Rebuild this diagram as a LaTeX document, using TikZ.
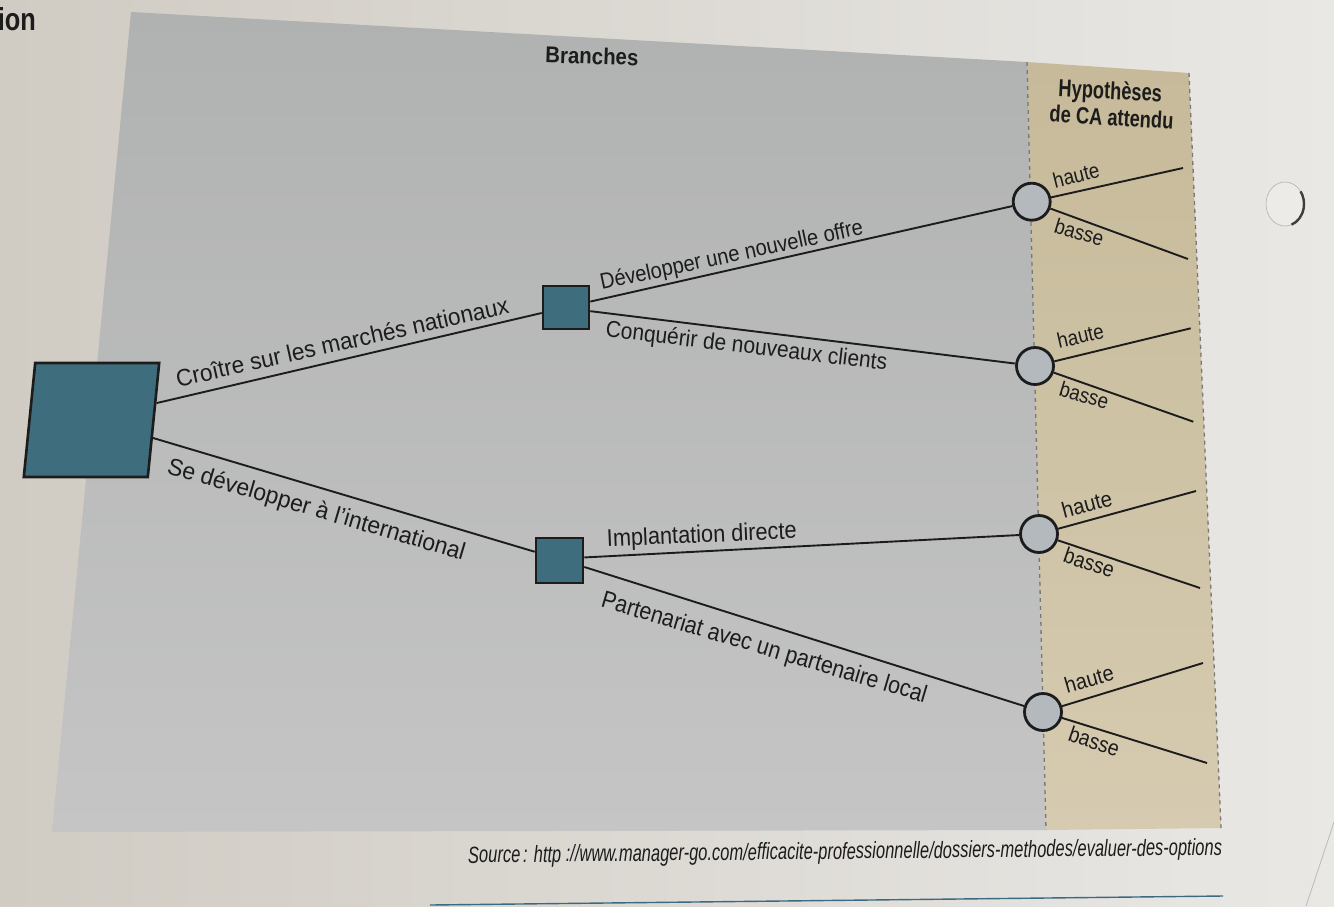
\documentclass[tikz,border=0pt]{standalone}
\usepackage{graphicx}
\usepackage{fontspec}
\setmainfont{Liberation Sans}
\usetikzlibrary{calc}
\definecolor{bgL}{RGB}{208,203,195}
\definecolor{bgR}{RGB}{233,232,229}
\definecolor{panelTop}{RGB}{176,177,177}
\definecolor{panelBot}{RGB}{196,197,196}
\definecolor{beigeTop}{RGB}{198,186,154}
\definecolor{beigeBot}{RGB}{214,203,176}
\definecolor{sqfill}{RGB}{62,110,126}
\definecolor{circfill}{RGB}{180,185,190}
\definecolor{ink}{RGB}{28,28,28}
\definecolor{dashcol}{RGB}{120,120,118}
\definecolor{rulecol}{RGB}{60,105,130}
\definecolor{holefill}{RGB}{236,235,232}
\newcommand{\fitlbl}[3]{\resizebox{#1pt}{#2pt}{#3}}
\tikzset{
  decision/.style={draw=ink, line width=2.6pt, fill=sqfill, rectangle, inner sep=0pt},
  chance/.style={draw=ink, line width=2.8pt, fill=circfill, circle, inner sep=0pt, minimum size=37pt},
  branch/.style={draw=ink, line width=1.9pt},
  lbl/.style={inner sep=0pt, anchor=base west, text=ink},
  title/.style={inner sep=0pt, anchor=base west, text=ink, font=\bfseries},
  dashline/.style={draw=dashcol, line width=1.3pt, dash pattern=on 4pt off 4pt}
}
\begin{document}
\begin{tikzpicture}[x=1pt,y=-1pt]
\useasboundingbox (0,0) rectangle (1334,906);
% page
\shade[left color=bgL, right color=bgR] (0,0) rectangle (1334,906);
% panel
\shade[top color=panelTop, bottom color=panelBot] (131,12) -- (1027,62) -- (1046,830) -- (52,832) -- cycle;
\shade[top color=beigeTop, bottom color=beigeBot] (1027,62) -- (1189,73) -- (1221,828) -- (1046,830) -- cycle;
\draw[dashline] (1027,62) -- (1046,830);
\draw[dashline] (1189,73) -- (1221,828);
% page details
\node[title, anchor=base east] (ion) at (36,30) {\fitlbl{38}{23}{ion}};
\fill[holefill] (1285,204) ellipse [x radius=19pt, y radius=22pt];
\draw[line width=0.6pt, gray!60] (1285,204) ellipse [x radius=19pt, y radius=22pt];
\draw[line width=2.4pt, ink!85] ([shift={(-70:19pt and 22pt)}]1285,204) arc [start angle=-70, end angle=35, x radius=19pt, y radius=22pt];
\draw[rulecol, line width=1.4pt] (430,905) -- (1223,896);
\draw[gray!55, line width=0.8pt] (1334,822) -- (1306,906);
% titles
\node[title, rotate=-2] (branches) at (545,62.5) {\fitlbl{93}{16.5}{Branches}};
\node[title, rotate=-2.8] (hyp1) at (1058,96.7) {\fitlbl{103.5}{18}{Hypothèses}};
\node[title, rotate=-3.5] (hyp2) at (1049,121.7) {\fitlbl{124}{17}{de CA attendu}};
% nodes
\node[decision, minimum width=124pt, minimum height=114pt, xslant=0.1, transform shape] (root) at (91.5,420) {};
\node[decision, minimum width=46pt, minimum height=43pt] (s2) at (566,307.5) {};
\node[decision, minimum width=47pt, minimum height=45pt] (s3) at (559.5,560.3) {};
\node[chance] (c1) at (1031.7,201.7) {};
\node[chance] (c2) at (1035,366) {};
\node[chance] (c3) at (1039,534) {};
\node[chance] (c4) at (1043,712) {};
% free ends
\coordinate (h1) at (1183,168);
\coordinate (b1) at (1188,259);
\coordinate (h2) at (1190.7,328.3);
\coordinate (b2) at (1193.3,421.7);
\coordinate (h3) at (1196,491);
\coordinate (b3) at (1200,588);
\coordinate (h4) at (1203,663);
\coordinate (b4) at (1207,763);
% connectors
\draw[branch] ($(root.north east)!0.355!(root.south east)$) -- ($(s2.north west)!0.62!(s2.south west)$);
\draw[branch] ($(root.north east)!0.654!(root.south east)$) -- ($(s3.north west)!0.32!(s3.south west)$);
\draw[branch] ($(s2.north east)!0.37!(s2.south east)$) -- (c1);
\draw[branch] ($(s2.north east)!0.58!(s2.south east)$) -- (c2);
\draw[branch] ($(s3.north east)!0.44!(s3.south east)$) -- (c3);
\draw[branch] ($(s3.north east)!0.64!(s3.south east)$) -- (c4);
\foreach \c/\h/\b in {c1/h1/b1, c2/h2/b2, c3/h3/b3, c4/h4/b4}{
  \draw[branch] (\c) -- (\h);
  \draw[branch] (\c) -- (\b);
}
% branch labels
\node[lbl, rotate=12.6] (l1) at (178,387.3) {\fitlbl{340}{17.5}{Croître sur les marchés nationaux}};
\node[lbl, rotate=-16.4] (l2) at (166,473) {\fitlbl{309}{17.5}{Se développer à l’international}};
\node[lbl, rotate=12] (l3) at (601.7,290) {\fitlbl{268}{16.5}{Développer une nouvelle offre}};
\node[lbl, rotate=-6.8] (l4) at (605,336.5) {\fitlbl{283}{17}{Conquérir de nouveaux clients}};
\node[lbl, rotate=2.5] (l5) at (607,546.7) {\fitlbl{190}{17.5}{Implantation directe}};
\node[lbl, rotate=-16.5] (l6) at (600,606.7) {\fitlbl{338}{17.5}{Partenariat avec un partenaire local}};
% outcome labels
\node[lbl, rotate=14] (lh1) at (1055,188.5) {\fitlbl{47}{15.5}{haute}};
\node[lbl, rotate=-17] (lb1) at (1053,232) {\fitlbl{50}{15.5}{basse}};
\node[lbl, rotate=13] (lh2) at (1059,348.5) {\fitlbl{47}{15.5}{haute}};
\node[lbl, rotate=-17] (lb2) at (1058,395) {\fitlbl{50}{15.5}{basse}};
\node[lbl, rotate=15] (lh3) at (1064,518.5) {\fitlbl{51}{16}{haute}};
\node[lbl, rotate=-19] (lb3) at (1062,561.5) {\fitlbl{52}{16}{basse}};
\node[lbl, rotate=16] (lh4) at (1067,693.5) {\fitlbl{50}{16}{haute}};
\node[lbl, rotate=-19] (lb4) at (1067,740) {\fitlbl{52}{16}{basse}};
% source
\node[lbl, rotate=0.6] (src) at (468,863) {\fitlbl{754}{17}{\itshape Source\,: http ://www.manager-go.com/efficacite-professionnelle/dossiers-methodes/evaluer-des-options}};
\end{tikzpicture}
\end{document}
